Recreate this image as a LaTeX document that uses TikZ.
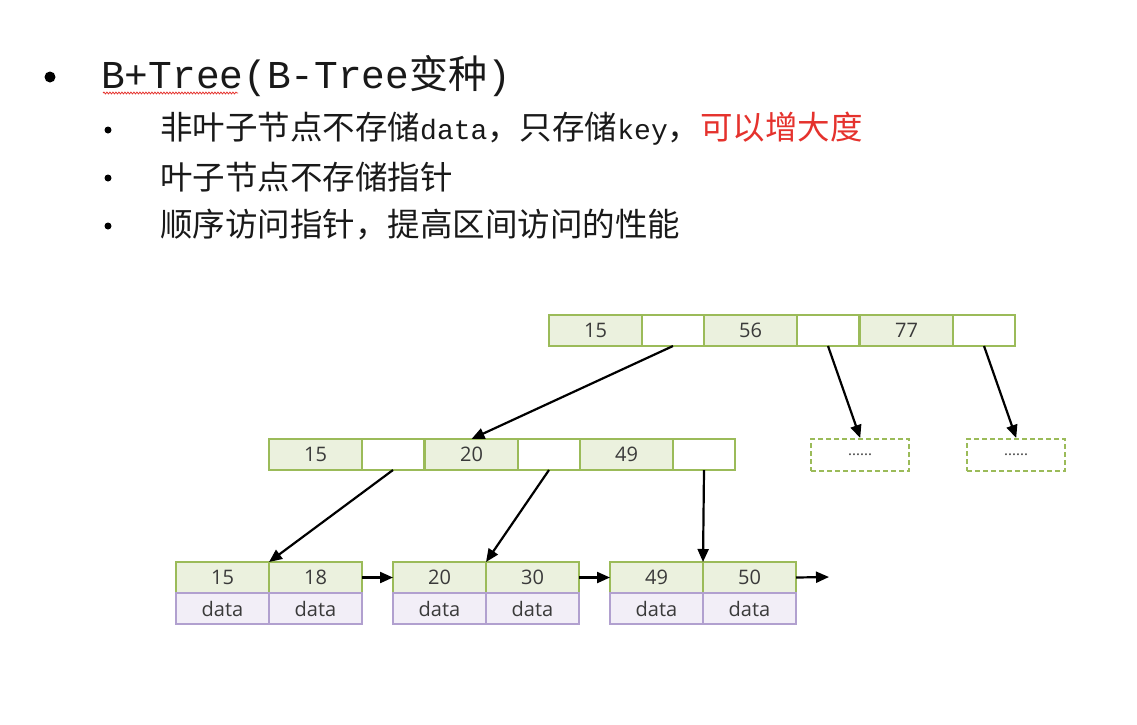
\documentclass[tikz,border=0pt]{standalone}
\usepackage{fontspec}
\setmainfont{Open Sans}
\newfontfamily\cjk{Noto Sans CJK SC}
\newfontfamily\lat{Liberation Mono}
\newfontfamily\numfont{Open Sans}
\usetikzlibrary{arrows.meta,decorations.pathmorphing}
\definecolor{bgreen}{HTML}{9BBB59}
\definecolor{lgreen}{HTML}{EBF1DE}
\definecolor{bpurple}{HTML}{B1A0CF}
\definecolor{lpurple}{HTML}{F2EEF7}
\definecolor{txtred}{HTML}{E5322D}
\definecolor{numgray}{HTML}{3A3A3A}
\tikzset{
  keycell/.style={draw=bgreen, fill=lgreen, line width=2.6pt, minimum width=93pt, minimum height=31pt,
    anchor=north west, inner sep=0pt, outer sep=0pt, font=\numfont\fontsize{20}{20}\selectfont, text=numgray},
  ptrcell/.style={keycell, fill=white, minimum width=62pt},
  datcell/.style={keycell, draw=bpurple, fill=lpurple},
  dashbox/.style={draw=bgreen, dashed, dash pattern=on 5pt off 3pt, line width=2.4pt, minimum width=98pt,
    minimum height=32pt, anchor=north west, inner sep=0pt, font=\numfont\fontsize{15}{15}\selectfont, text=numgray},
  link/.style={line width=2.2pt, -{Triangle[length=13pt,width=11pt]}},
  bigtxt/.style={anchor=west, inner sep=0pt, font=\cjk\fontsize{39}{39}\selectfont, text=black!90},
  subtxt/.style={anchor=west, inner sep=0pt, font=\cjk\fontsize{32.5}{33}\selectfont, text=black!90}
}
\newcommand{\titlelat}[1]{{\lat\fontsize{39.5}{39}\selectfont #1}}
\newcommand{\smlat}[1]{{\lat\fontsize{28}{28}\selectfont #1}}
\begin{document}
\begin{tikzpicture}[x=1pt,y=-1pt]
\path[use as bounding box, fill=white] (0,0) rectangle (1137,724);
% text
\node[circle, fill=black, inner sep=0pt, minimum size=11pt] (b0) at (50,77) {};
\node[bigtxt] (title) at (101,76) {\titlelat{B+Tree(B-Tree}变种\titlelat{)}};
\draw[txtred, line width=0.8pt, decorate, decoration={snake, amplitude=0.9pt, segment length=3pt}] (103,93) -- (238,93);
\node[circle, fill=black, inner sep=0pt, minimum size=7pt] (b1) at (108,130) {};
\node[circle, fill=black, inner sep=0pt, minimum size=7pt] (b2) at (108,178) {};
\node[circle, fill=black, inner sep=0pt, minimum size=7pt] (b3) at (108,226) {};
\node[subtxt] (s1) at (160,129) {非叶子节点不存储\smlat{data}，只存储\smlat{key}，\textcolor{txtred}{可以增大度}};
\node[subtxt] (s2) at (160,177) {叶子节点不存储指针};
\node[subtxt] (s3) at (160,224) {顺序访问指针，提高区间访问的性能};
% top node
\node[keycell] (t15) at (549,315) {15};
\node[ptrcell] (tp1) at (642,315) {};
\node[keycell] (t56) at (704,315) {56};
\node[ptrcell] (tp2) at (797,315) {};
\node[keycell] (t77) at (860,315) {77};
\node[ptrcell] (tp3) at (953,315) {};
% middle node
\node[keycell] (m15) at (269,439) {15};
\node[ptrcell] (mp1) at (362,439) {};
\node[keycell] (m20) at (425,439) {20};
\node[ptrcell] (mp2) at (518,439) {};
\node[keycell] (m49) at (580,439) {49};
\node[ptrcell] (mp3) at (673,439) {};
% dashed boxes
\node[dashbox] (d1) at (810,438) {......};
\node[dashbox] (d2) at (966,438) {......};
% leaves
\node[keycell] (l15) at (176,562) {15};
\node[keycell] (l18) at (269,562) {18};
\node[datcell] (a1) at (176,593) {data};
\node[datcell] (a2) at (269,593) {data};
\node[keycell] (l20) at (393,562) {20};
\node[keycell] (l30) at (486,562) {30};
\node[datcell] (a3) at (393,593) {data};
\node[datcell] (a4) at (486,593) {data};
\node[keycell] (l49) at (610,562) {49};
\node[keycell] (l50) at (703,562) {50};
\node[datcell] (a5) at (610,593) {data};
\node[datcell] (a6) at (703,593) {data};
% connectors
\draw[link] (tp1.south) -- (m20.north);
\draw[link] (tp2.south) -- (d1.north);
\draw[link] (tp3.south) -- (d2.north);
\draw[link] (mp1.south) -- (l15.north east);
\draw[link] (mp2.south) -- (l20.north east);
\draw[link] (mp3.south) -- (l49.north east);
\draw[link] (l18.east) -- (l20.west);
\draw[link] (l30.east) -- (l49.west);
\coordinate (next) at (829,577);
\draw[link] (l50.east) -- (next);
\end{tikzpicture}
\end{document}
